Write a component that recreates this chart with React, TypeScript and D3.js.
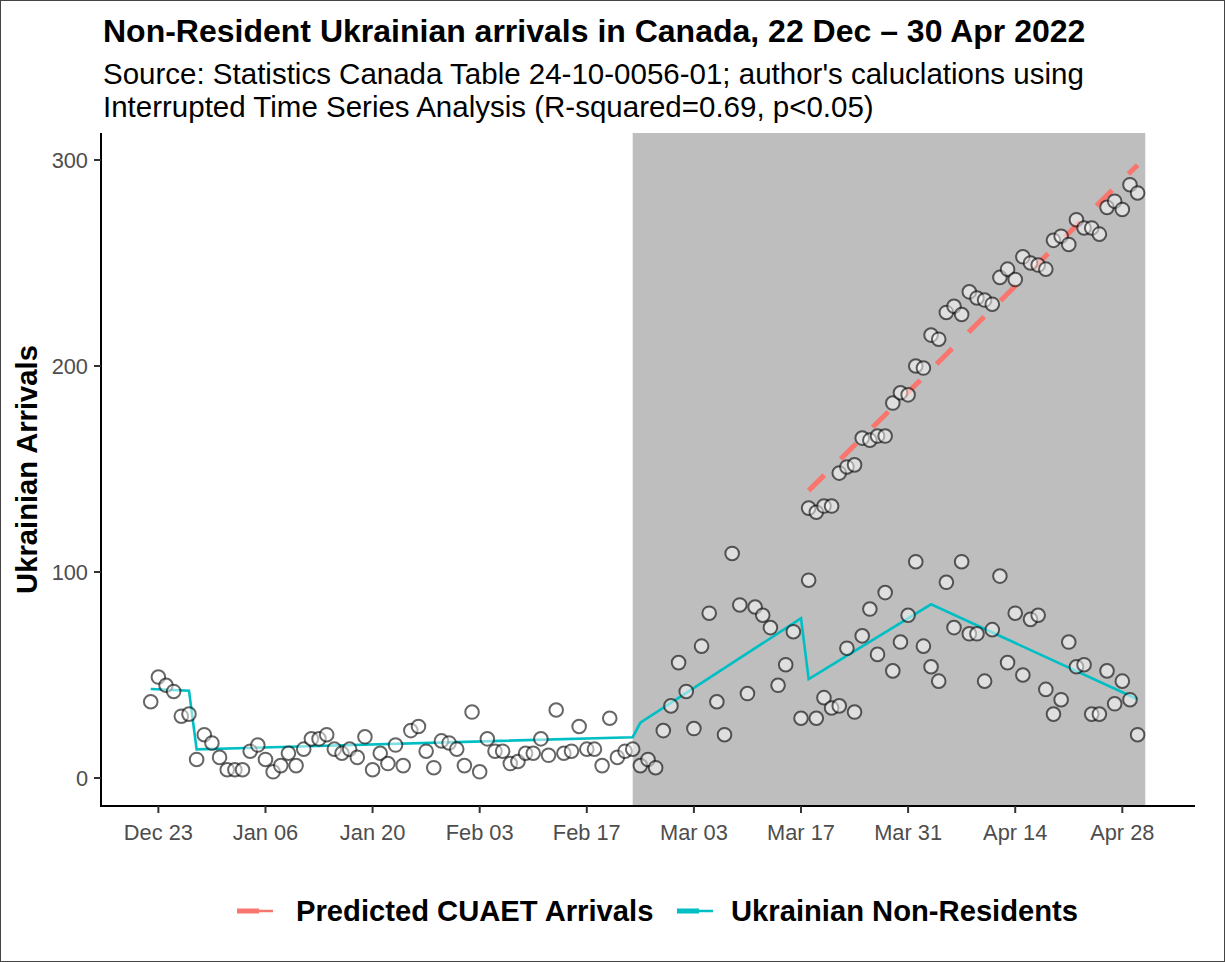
import React from "react";
import * as d3 from "d3";

const WIDTH = 1225;
const HEIGHT = 962;
const PANEL = { left: 101, right: 1195, top: 133, bottom: 806 };
const FONT = "'Liberation Sans', Arial, Helvetica, sans-serif";
const DAY = 864e5;

// daily Ukrainian non-resident arrivals, 22 Dec 2021 .. 30 Apr 2022
const firstDay = new Date(2021, 11, 22);
const nonResidents = [
  37, 49, 45, 42, 30, 31, 9, 21, 17, 10,
  4, 4, 4, 13, 16, 9, 3, 6, 12, 6, 14, 19, 19, 21, 14, 12, 14, 10, 20, 4,
  12, 7, 16, 6, 23, 25, 13, 5, 18, 17, 14,
  6, 32, 3, 19, 13, 13, 7, 8, 12, 12, 19, 11, 33, 12, 13, 25, 14, 14, 6,
  29, 10, 13, 14, 6, 9, 5, 23, 35,
  56, 42, 24, 64, 80, 37, 21, 109, 84, 41, 83, 79, 73, 45, 55, 71, 29, 96,
  29, 39, 34, 35, 63, 32, 69, 82, 60, 90, 52, 66, 79,
  105, 64, 54, 47, 95, 73, 105, 70, 70, 47, 72, 98, 56, 80, 50, 77, 79, 43,
  31, 38, 66, 54, 55, 31, 31, 52, 36, 47, 38, 21,
];

// CUAET arrivals, 18 Mar .. 30 Apr 2022
const cuaetFirstDay = new Date(2022, 2, 18);
const cuaetArrivals = [
  131, 129, 132, 132, 148, 151, 152, 165, 164, 166, 166, 182, 187, 186,
  200, 199, 215, 213, 226, 229, 225, 236, 233, 232, 230, 243, 247, 242, 253,
  250, 249, 247, 261, 263, 259, 271, 267, 267, 264, 277, 280, 276, 288, 284,
];

// predicted CUAET trend
const predictedDates = [new Date(2022, 2, 18), new Date(2022, 3, 30)];
const predictedValues = [139.5, 297.6];

// interrupted time series fit
const fitDates = [
  new Date(2021, 11, 22), new Date(2021, 11, 27), new Date(2021, 11, 28),
  new Date(2022, 1, 23), new Date(2022, 1, 24), new Date(2022, 2, 17),
  new Date(2022, 2, 18), new Date(2022, 3, 3), new Date(2022, 3, 30),
];
const fitValues = [43.2, 42.4, 13.9, 19.8, 26.8, 77.5, 48, 84.3, 38.2];

const shadeStart = new Date(2022, 1, 23);
const shadeEnd = new Date(2022, 4, 1);

const xTicks = [
  new Date(2021, 11, 23), new Date(2022, 0, 6), new Date(2022, 0, 20),
  new Date(2022, 1, 3), new Date(2022, 1, 17), new Date(2022, 2, 3),
  new Date(2022, 2, 17), new Date(2022, 2, 31), new Date(2022, 3, 14),
  new Date(2022, 3, 28),
];
const yTicks = [0, 100, 200, 300];
const yLimits = [-13.6, 313.1];

const seriesNames = ["Predicted CUAET Arrivals", "Ukrainian Non-Residents"];
const seriesColors = ["#F8766D", "#00BFC4"];

export default function App() {
  const xScale = d3
    .scaleTime()
    .domain([new Date(+firstDay - 6.5 * DAY), new Date(+shadeEnd + 6.5 * DAY)])
    .range([PANEL.left, PANEL.right]);

  const yScale = d3.scaleLinear().domain(yLimits).range([PANEL.bottom, PANEL.top]);

  const lowerPts = nonResidents.map((v, i) => ({
    date: d3.timeDay.offset(firstDay, i),
    value: v,
  }));
  const upperPts = cuaetArrivals.map((v, i) => ({
    date: d3.timeDay.offset(cuaetFirstDay, i),
    value: v,
  }));

  const line = d3
    .line<[Date, number]>()
    .x((d) => xScale(d[0]))
    .y((d) => yScale(d[1]));

  const fitPath = line(fitDates.map((d, i) => [d, fitValues[i]]));
  const predPath = line(predictedDates.map((d, i) => [d, predictedValues[i]]));

  const fmt = d3.timeFormat("%b %d");

  const legendItems = [
    { name: seriesNames[0], color: seriesColors[0], keyX: 237, textX: 296 },
    { name: seriesNames[1], color: seriesColors[1], keyX: 677, textX: 731 },
  ];

  return (
    <svg
      width={WIDTH}
      height={HEIGHT}
      style={{ position: "absolute", left: 0, top: 0, background: "#fff" }}
      fontFamily={FONT}
    >
      <rect x={0.5} y={0.5} width={WIDTH - 1} height={HEIGHT - 1} fill="#fff" stroke="#444" />

      <text x={103} y={42} fontSize={32} fontWeight="bold" fill="#000">
        Non-Resident Ukrainian arrivals in Canada, 22 Dec – 30 Apr 2022
      </text>
      <text x={103} y={84} fontSize={29.5} fill="#000">
        Source: Statistics Canada Table 24-10-0056-01; author's caluclations using
      </text>
      <text x={103} y={117} fontSize={29.5} fill="#000">
        Interrupted Time Series Analysis (R-squared=0.69, p&lt;0.05)
      </text>

      {/* intervention period */}
      <rect
        x={xScale(shadeStart)}
        y={PANEL.top}
        width={xScale(shadeEnd) - xScale(shadeStart)}
        height={PANEL.bottom - PANEL.top}
        fill="#BEBEBE"
      />

      <path d={fitPath ?? ""} fill="none" stroke={seriesColors[1]} strokeWidth={2.6} />
      <path
        d={predPath ?? ""}
        fill="none"
        stroke={seriesColors[0]}
        strokeWidth={5}
        strokeDasharray="22 23"
      />

      {lowerPts.concat(upperPts).map((d, i) => (
        <circle
          key={i}
          cx={xScale(d.date)}
          cy={yScale(d.value)}
          r={6.8}
          fill="#fff"
          fillOpacity={0.5}
          stroke="#000"
          strokeOpacity={0.6}
          strokeWidth={2}
        />
      ))}

      {/* axes */}
      <line x1={PANEL.left} x2={PANEL.left} y1={PANEL.top} y2={PANEL.bottom + 1} stroke="#000" strokeWidth={2} />
      <line x1={PANEL.left - 1} x2={PANEL.right} y1={PANEL.bottom} y2={PANEL.bottom} stroke="#000" strokeWidth={2} />

      {yTicks.map((t) => (
        <g key={t}>
          <line x1={PANEL.left - 7} x2={PANEL.left} y1={yScale(t)} y2={yScale(t)} stroke="#333" strokeWidth={2} />
          <text x={PANEL.left - 13} y={yScale(t) + 7.6} fontSize={21.8} fill="#4D4D4D" textAnchor="end">
            {t}
          </text>
        </g>
      ))}

      {xTicks.map((t, i) => (
        <g key={i}>
          <line x1={xScale(t)} x2={xScale(t)} y1={PANEL.bottom} y2={PANEL.bottom + 7} stroke="#333" strokeWidth={2} />
          <text x={xScale(t)} y={840} fontSize={21.8} fill="#4D4D4D" textAnchor="middle">
            {fmt(t)}
          </text>
        </g>
      ))}

      <text
        transform={`translate(37,${(PANEL.top + PANEL.bottom) / 2}) rotate(-90)`}
        fontSize={29.2}
        fontWeight="bold"
        textAnchor="middle"
        fill="#000"
      >
        Ukrainian Arrivals
      </text>

      {/* legend */}
      {legendItems.map((it) => (
        <g key={it.name}>
          <line x1={it.keyX} x2={it.keyX + 36} y1={911} y2={911} stroke={it.color} strokeWidth={2.6} />
          <line x1={it.keyX} x2={it.keyX + 22} y1={911} y2={911} stroke={it.color} strokeWidth={5} />
          <text x={it.textX} y={921} fontSize={29.2} fontWeight="bold" fill="#000">
            {it.name}
          </text>
        </g>
      ))}
    </svg>
  );
}
